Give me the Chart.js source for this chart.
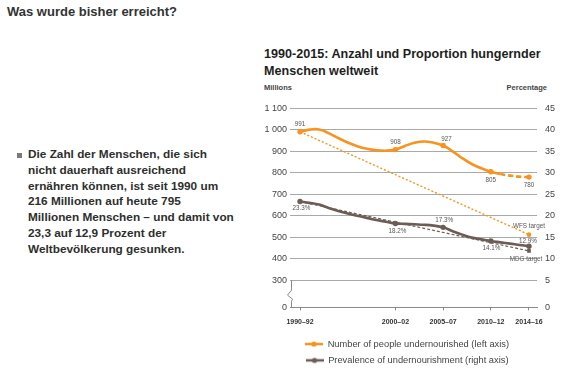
<!DOCTYPE html>
<html>
<head>
<meta charset="utf-8">
<script src="https://cdn.jsdelivr.net/npm/chart.js@4.4.1/dist/chart.umd.min.js"></script>
<style>
  body { margin: 0; background: #fff; font-family: "Liberation Sans", Arial, sans-serif; color: #333; }
  #page { position: relative; width: 577px; height: 374px; overflow: hidden; }
  #heading { position: absolute; left: 7px; top: 4px; margin: 0; font-size: 13px; font-weight: bold; line-height: 16px; color: #333; }
  #bullet { position: absolute; left: 17px; top: 153px; width: 5px; height: 5px; background: #7a7a7a; }
  #text { position: absolute; left: 28px; top: 147px; font-size: 11.8px; font-weight: bold; line-height: 15.8px; color: #2e2e2e; white-space: nowrap; }
  #title { position: absolute; left: 264px; top: 46px; font-size: 12.6px; font-weight: bold; line-height: 17px; color: #1e1e1e; white-space: nowrap; }
  .unit { position: absolute; top: 83px; font-size: 7.5px; font-weight: bold; color: #444; line-height: 10px; }
  #wrap { position: absolute; left: 255px; top: 95px; width: 304px; height: 280px; }
</style>
</head>
<body>
<div id="page">
  <h1 id="heading">Was wurde bisher erreicht?</h1>
  <div id="bullet"></div>
  <div id="text">Die Zahl der Menschen, die sich<br>nicht dauerhaft ausreichend<br>ernähren können, ist seit 1990 um<br>216 Millionen auf heute 795<br>Millionen Menschen – und damit von<br>23,3 auf 12,9 Prozent der<br>Weltbevölkerung gesunken.</div>
  <div id="title">1990-2015: Anzahl und Proportion hungernder<br>Menschen weltweit</div>
  <div class="unit" style="left:264px">Millions</div>
  <div class="unit" style="right:30px">Percentage</div>
  <div id="wrap"><canvas id="hungerChart"></canvas></div>
</div>
<script>
// * data
const years = [1991, 1992, 1993, 1994, 1995, 1996, 1997, 1998, 1999, 2000, 2001, 2002, 2003,
  2004, 2005, 2006, 2007, 2008, 2009, 2010, 2011, 2012, 2013, 2014, 2015];
const peopleMillions = [991, 1001, 1002, 985, 962, 941, 924, 912, 905, 903, 908, 925, 940,
  946, 940, 927, 900, 868, 841, 821, 805, 794, 787, 782, 780];
const prevalencePct = [23.3, 23.0, 22.6, 21.8, 21.1, 20.5, 20.0, 19.5, 19.0, 18.6, 18.2, 18.1, 18.0,
  17.9, 17.7, 17.3, 16.4, 15.6, 14.9, 14.5, 14.1, 13.8, 13.5, 13.2, 12.9];
const periodYears = [1991, 2001, 2006, 2011, 2015];
const periodLabels = ["1990–92", "2000–02", "2005–07", "2010–12", "2014–16"];
const targetYears = [1991, 2015];
const wfsTarget = [991, 512];
const mdgTarget = [23.3, 11.8];
const leftTicks = [0, 300, 400, 500, 600, 700, 800, 900, 1000, 1100];
const rightTicks = [0, 5, 10, 15, 20, 25, 30, 35, 40, 45];
const lastSolidYear = 2012;

const ORANGE = "#f7931e";
const GREY = "#6b5d56";
const GRID = "#a9a9a9";

// broken axis: the bottom tick stands for 0
const leftMin = 173;
const rightMin = leftMin / 20 - 10;

const toPoints = (xs, ys) => xs.map((x, i) => ({ x: x, y: ys[i] }));
const isPeriod = (ctx) => ctx.raw && periodYears.includes(ctx.raw.x);

function legendIcon(color) {
  const c = document.createElement("canvas");
  c.width = 18;
  c.height = 8;
  const g = c.getContext("2d");
  g.strokeStyle = color;
  g.lineWidth = 2.5;
  g.beginPath();
  g.moveTo(0, 4);
  g.lineTo(18, 4);
  g.stroke();
  g.fillStyle = color;
  g.beginPath();
  g.arc(9, 4, 2.6, 0, Math.PI * 2);
  g.fill();
  return c;
}

// * value labels + axis break
const decorPlugin = {
  id: "decor",
  afterDatasetsDraw(chart) {
    const { ctx, chartArea, scales } = chart;
    const x = scales.x, yl = scales.yLeft, yr = scales.yRight;

    // left border with break mark below 300
    const top = yl.getPixelForValue(300);
    const L = chartArea.left + 1.5;
    ctx.save();
    ctx.strokeStyle = "#8a8a8a";
    ctx.lineWidth = 1;
    ctx.beginPath();
    ctx.moveTo(L, top);
    ctx.lineTo(L, top + 10);
    ctx.lineTo(L - 4, top + 15);
    ctx.lineTo(L + 1, top + 19);
    ctx.lineTo(L, top + 21);
    ctx.lineTo(L, chartArea.bottom);
    ctx.stroke();

    ctx.font = "6.3px 'Liberation Sans', Arial, sans-serif";
    ctx.fillStyle = "#555";
    ctx.textAlign = "center";
    ctx.textBaseline = "middle";

    const peopleOff = [[0, -7.5], [0, -7], [3.5, -6.5], [0, 8.5], [0, 8.5]];
    const prevOff = [[1.5, 6.5], [2, 7.5], [1, -7.5], [0.5, 7.5], [-1, -5]];
    periodYears.forEach((yr0, i) => {
      const k = years.indexOf(yr0);
      const px = x.getPixelForValue(yr0);
      ctx.fillText(String(peopleMillions[k]), px + peopleOff[i][0], yl.getPixelForValue(peopleMillions[k]) + peopleOff[i][1]);
      ctx.fillText(prevalencePct[k].toFixed(1) + "%", px + prevOff[i][0], yr.getPixelForValue(prevalencePct[k]) + prevOff[i][1]);
    });
    const tx = x.getPixelForValue(targetYears[1]);
    ctx.fillText("WFS target", tx, yl.getPixelForValue(wfsTarget[1]) - 8);
    ctx.fillText("MDG target", tx - 3, yr.getPixelForValue(mdgTarget[1]) + 8);
    ctx.restore();
  },
};

window.addEventListener("DOMContentLoaded", () => {
  Chart.defaults.font.family = "'Liberation Sans', Arial, sans-serif";
  Chart.defaults.color = "#444";

  const data = {
    datasets: [
      {
        label: "WFS target",
        data: toPoints(targetYears, wfsTarget),
        yAxisID: "yLeft",
        borderColor: ORANGE,
        backgroundColor: ORANGE,
        borderWidth: 1.4,
        borderDash: [2, 2],
        pointRadius: [0, 2.3],
        pointBorderWidth: 0,
        order: 2,
      },
      {
        label: "MDG target",
        data: toPoints(targetYears, mdgTarget),
        yAxisID: "yRight",
        borderColor: GREY,
        backgroundColor: GREY,
        borderWidth: 1.2,
        borderDash: [3, 2],
        pointRadius: [0, 2.6],
        pointBorderWidth: 0,
        pointStyle: "rect",
        order: 2,
      },
      {
        label: "Number of people undernourished (left axis)",
        data: toPoints(years, peopleMillions),
        yAxisID: "yLeft",
        borderColor: ORANGE,
        backgroundColor: ORANGE,
        borderWidth: 2.6,
        tension: 0.4,
        pointRadius: (ctx) => (isPeriod(ctx) ? 2.7 : 0),
        pointBorderWidth: 0,
        segment: {
          borderDash: (ctx) => (ctx.p0.parsed.x >= lastSolidYear ? [5, 3] : undefined),
        },
        order: 1,
      },
      {
        label: "Prevalence of undernourishment (right axis)",
        data: toPoints(years, prevalencePct),
        yAxisID: "yRight",
        borderColor: GREY,
        backgroundColor: GREY,
        borderWidth: 2.6,
        tension: 0.4,
        pointRadius: (ctx) => (isPeriod(ctx) ? 2.7 : 0),
        pointBorderWidth: 0,
        order: 1,
      },
    ],
  };

  const config = {
    type: "line",
    data: data,
    options: {
      responsive: true,
      maintainAspectRatio: false,
      animation: false,
      layout: { padding: { top: 8, left: 0, right: 0, bottom: 0 } },
      plugins: {
        tooltip: { enabled: false },
        legend: {
          position: "bottom",
          labels: {
            usePointStyle: true,
            pointStyleWidth: 18,
            padding: 7,
            color: "#444",
            font: { size: 9.3 },
            generateLabels(chart) {
              return Chart.defaults.plugins.legend.labels
                .generateLabels(chart)
                .filter((item) => item.datasetIndex >= 2)
                .map((item) => ({
                  ...item,
                  pointStyle: legendIcon(chart.data.datasets[item.datasetIndex].borderColor),
                }));
            },
          },
        },
      },
      scales: {
        x: {
          type: "linear",
          min: 1989.95,
          max: 2015.84,
          afterBuildTicks: (scale) => {
            scale.ticks = periodYears.map((v) => ({ value: v }));
          },
          afterFit: (scale) => {
            scale.height = 25;
          },
          ticks: {
            autoSkip: false,
            maxRotation: 0,
            padding: 7,
            color: "#333",
            font: { size: 7, weight: "bold" },
            callback: (v) => periodLabels[periodYears.indexOf(v)],
          },
          grid: {
            drawOnChartArea: false,
            drawTicks: true,
            tickLength: 3,
            color: "#8a8a8a",
          },
          border: { display: true, color: "#8a8a8a", width: 1 },
        },
        yLeft: {
          position: "left",
          min: leftMin,
          max: 1100,
          afterBuildTicks: (scale) => {
            scale.ticks = leftTicks.map((v) => ({ value: v === 0 ? leftMin : v }));
          },
          afterFit: (scale) => {
            scale.width = 35;
          },
          ticks: {
            padding: 3,
            color: "#444",
            font: { size: 9 },
            callback: (v) => {
              if (v <= leftMin) return "0";
              return v >= 1000 ? "1 " + String(v - 1000).padStart(3, "0") : String(v);
            },
          },
          grid: {
            color: (ctx) => (ctx.tick && ctx.tick.value <= leftMin ? "rgba(0,0,0,0)" : GRID),
            lineWidth: 1,
            drawTicks: false,
          },
          border: { display: false },
        },
        yRight: {
          position: "right",
          min: rightMin,
          max: 45,
          afterBuildTicks: (scale) => {
            scale.ticks = rightTicks.map((v) => ({ value: v === 0 ? rightMin : v }));
          },
          afterFit: (scale) => {
            scale.width = 22;
          },
          ticks: {
            padding: 8,
            color: "#444",
            font: { size: 9 },
            callback: (v) => (v <= rightMin ? "0" : String(v)),
          },
          grid: { display: false, drawTicks: false },
          border: { display: false },
        },
      },
    },
    plugins: [decorPlugin],
  };

  const ctx = document.getElementById("hungerChart").getContext("2d");
  new Chart(ctx, config);
});
</script>
</body>
</html>
